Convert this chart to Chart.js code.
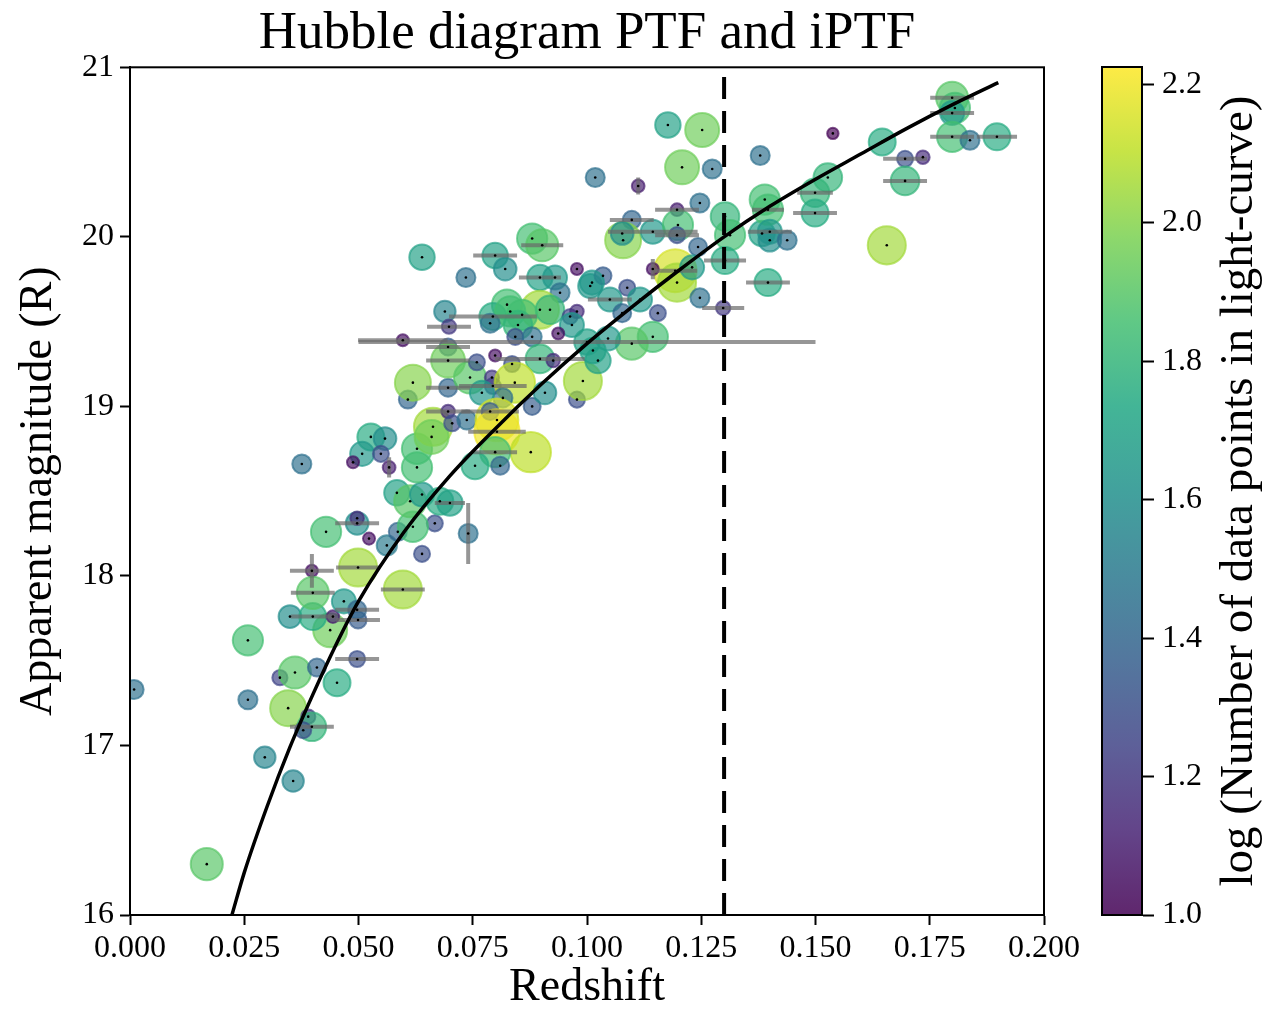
<!DOCTYPE html>
<html>
<head>
<meta charset="utf-8">
<script src="https://cdn.jsdelivr.net/npm/chart.js@4.4.1/dist/chart.umd.min.js"></script>
<style>
  body { margin: 0; background: #fff; }
  #wrap { position: relative; width: 1263px; height: 1009px; }
  #main { position: absolute; left: 0; top: 0; }
  #cbar { position: absolute; left: 1090px; top: 0; }
</style>
</head>
<body>
<div id="wrap">
  <canvas id="main" width="1090" height="1009"></canvas>
  <canvas id="cbar" width="173" height="1009"></canvas>
</div>
<script>
const FONT = "'Liberation Serif', 'Times New Roman', serif";

// supernovae: redshift, apparent magnitude (R), log10 of light-curve point count
const snZ = [
  0.0009,0.0168,0.0357,0.0295,0.0346,0.0390,0.0398,0.0379,0.0258,0.0328,
  0.0361,0.0409,0.0453,0.0497,0.0258,0.0438,0.0350,0.0400,0.0444,0.0499,
  0.0468,0.0497,0.0398,0.0400,0.0499,0.0597,0.0639,0.0562,0.0586,0.0497,
  0.0497,0.0523,0.0429,0.0667,0.0619,0.0584,0.0613,0.0639,0.0678,0.0628,
  0.0628,0.0663,0.0660,0.0527,0.0558,0.0508,0.0549,0.0567,0.0488,0.0376,
  0.0608,0.0619,0.0696,0.0696,0.0705,
  0.0639,0.0735,0.0689,0.0698,0.0597,0.0696,0.0696,0.0744,0.0880,0.0902,
  0.0799,0.0821,0.0978,0.0897,0.0930,0.0941,0.1007,0.0825,0.0897,0.0919,
  0.0794,0.0832,0.0858,0.0963,0.0978,0.0788,0.0849,0.0967,0.0937,0.0843,
  0.0880,0.1000,0.0799,0.0759,0.0836,0.0897,0.0926,0.0794,0.0792,0.0842,
  0.0816,0.0880,0.0908,0.0978,0.0770,0.0737,0.0803,0.0788,0.0803,0.0877,
  0.0799,0.0810,0.0755,0.0740,0.0700,
  0.0991,
  0.1177,0.1252,0.1208,0.1274,0.1379,0.1112,0.1018,0.1247,0.1197,0.1098,
  0.1079,0.1077,0.1144,0.1199,0.1197,0.1243,0.1302,0.1313,0.1389,0.1383,
  0.1302,0.1193,0.1197,0.1144,0.1230,0.1247,0.1298,0.1088,0.1035,0.1011,
  0.1050,0.1116,0.1155,0.1144,0.1098,0.1046,0.1013,0.1024,0.1077,0.1799,
  0.1805,0.1799,0.1799,0.1838,0.1897,0.1646,0.1696,0.1735,0.1696,0.1538,
  0.1527,0.1499,0.1499,0.1396,0.1400,0.1400,0.1438,0.1656,0.1396
];
const snMag = [
  17.33,16.30,16.79,16.93,17.22,17.17,17.11,17.09,17.27,17.40,
  17.43,17.46,17.37,17.51,17.62,17.68,17.76,17.76,17.76,17.74,
  17.85,17.80,18.03,17.90,18.05,17.92,18.13,18.18,18.26,18.31,
  18.34,18.22,18.26,18.31,18.29,18.49,18.44,18.48,18.44,18.64,
  18.75,18.88,18.82,18.82,18.81,18.72,18.72,18.64,18.67,18.66,
  19.04,19.14,19.11,18.97,18.90,
  19.88,19.76,19.56,19.47,19.39,19.35,19.27,19.17,19.99,19.95,
  19.89,19.81,19.81,19.76,19.76,19.67,19.71,19.60,19.57,19.57,
  19.53,19.56,19.54,19.53,19.56,19.49,19.48,19.48,19.43,19.41,
  19.41,19.38,19.30,19.26,19.25,19.28,19.27,19.12,19.17,19.14,
  19.05,19.00,19.08,19.04,19.08,18.92,18.92,18.97,18.85,18.73,
  18.73,18.65,18.65,18.25,18.43,
  19.15,
  20.66,20.63,20.41,20.40,20.48,20.30,20.35,20.20,20.16,20.10,
  19.98,20.02,20.03,20.07,20.01,19.94,20.12,20.01,20.22,20.02,
  19.86,19.80,19.73,19.81,19.82,19.64,19.58,19.70,19.77,19.73,
  19.63,19.63,19.55,19.41,19.37,19.40,19.33,19.27,19.55,20.82,
  20.76,20.73,20.59,20.57,20.59,20.56,20.46,20.47,20.33,20.61,
  20.35,20.26,20.14,20.16,20.03,19.98,19.98,19.95,19.73
];
const snLogN = [
  1.45,1.90,1.55,1.55,2.00,1.20,1.80,1.30,1.45,1.25,
  1.90,1.40,1.75,1.30,1.85,1.95,1.60,1.75,1.10,1.35,
  1.65,1.40,1.05,1.90,2.05,2.05,1.30,1.50,1.40,1.60,
  1.15,1.05,1.85,1.30,1.85,1.70,1.90,1.65,1.75,1.85,
  1.85,2.05,1.95,1.75,1.60,1.65,1.30,1.10,1.05,1.45,
  1.40,2.00,1.40,1.15,1.30,
  1.70,1.45,1.55,1.20,1.05,1.35,1.95,1.90,1.85,1.90,
  1.70,1.60,1.05,1.70,1.65,1.45,1.65,1.85,2.05,1.80,
  1.75,1.85,1.85,1.25,1.15,1.45,1.80,1.65,1.05,1.30,
  1.45,1.70,1.05,1.30,1.30,1.80,1.15,1.30,1.20,2.10,
  1.45,1.35,1.60,1.30,1.65,1.45,2.15,1.35,2.20,2.10,
  1.85,1.40,1.75,1.45,1.70,
  2.05,
  1.70,1.95,1.95,1.45,1.45,1.10,1.45,1.45,1.10,1.40,
  2.00,1.60,1.65,1.85,1.30,1.40,1.80,1.85,1.85,1.70,
  1.75,2.15,2.05,1.05,1.65,1.45,1.20,1.30,1.35,1.65,
  1.65,1.65,1.30,1.85,1.90,1.65,1.70,1.70,1.40,1.90,
  1.85,1.65,1.85,1.45,1.75,1.75,1.30,1.15,1.80,1.00,
  1.80,1.80,1.75,1.85,1.65,1.60,1.45,2.05,1.75
];
const snZErr = [
  0,0,0,0,0,0,0.0048,0,0,0,
  0,0,0,0.0048,0,0,0,0.0048,0,0.0048,
  0,0.0048,0.0048,0.0048,0.0048,0.0048,0,0,0,0.0048,
  0,0,0,0,0,0,0,0,0,0,
  0,0,0,0,0,0,0,0,0,0,
  0,0,0.0048,0.0048,0,
  0,0,0,0.0048,0.0098,0.0048,0.0048,0,0,0.0046,
  0.0048,0,0,0.0046,0,0,0,0,0,0,
  0.0096,0,0,0,0,0,0,0,0,0,
  0,0.050,0,0,0,0.0098,0,0.0074,0,0,
  0,0,0,0,0,0,0,0.0063,0.0063,0,
  0.0048,0,0,0,0.0033,
  0,
  0,0,0,0,0,0,0,0,0.0048,0.0048,
  0,0,0.0098,0,0.0048,0,0,0,0,0,
  0.0046,0.0048,0,0,0,0,0.0046,0,0,0,
  0.0048,0,0,0,0,0,0,0,0,0.0048,
  0,0.0048,0.0048,0,0.0044,0,0.0048,0,0.0048,0,
  0,0.0039,0.0048,0.0035,0.0048,0,0,0,0.0048
];
const snMagErr = [
  0,0,0,0,0,0,0,0,0,0,
  0,0,0,0,0,0,0,0,0,0,
  0,0,0.10,0,0,0,0,0,0,0,
  0,0,0,0,0,0,0,0,0,0,
  0,0,0,0,0,0,0,0.06,0,0,
  0,0,0,0,0,0,0,0,0,0,
  0,0,0,0,0,0,0,0,0,0,
  0,0,0,0,0,0,0,0,0,0,
  0,0,0,0,0,0,0,0,0,0,
  0,0,0,0,0,0,0,0,0,0,
  0,0,0,0,0,0,0,0,0.18,0,
  0,0,0,0,0,0,0.05,0,0,0,
  0,0,0,0,0,0,0,0,0,0,
  0,0,0,0,0.06,0,0,0,0,0,
  0,0,0,0,0,0,0,0,0,0,
  0,0,0,0,0,0,0,0,0,0,
  0,0,0,0,0,0,0,0,0,0
];

// fitted Hubble-law curve
const curveZ = [0.0223,0.025,0.030,0.035,0.040,0.045,0.050,0.060,0.070,0.080,0.090,
                0.100,0.110,0.120,0.130,0.140,0.150,0.160,0.170,0.180,0.190];
const curveMag = [16.00,16.25,16.64,16.99,17.30,17.59,17.85,18.26,18.59,18.87,19.13,
                  19.37,19.59,19.80,20.00,20.18,20.34,20.49,20.64,20.78,20.91];

const zCut = 0.13;
const zRange = [0, 0.2];
const magRange = [16, 21];
const cbarRange = [1.0, 2.225];
const cbarTitle = 'log (Number of data points in light-curve)';

const viridis = [[68,1,84],[72,36,117],[65,68,135],[53,95,141],[42,120,142],[33,145,140],
                 [34,168,132],[68,191,112],[122,209,81],[189,223,38],[253,231,37]];

function cmap(v, a) {
  let t = (v - cbarRange[0]) / (cbarRange[1] - cbarRange[0]);
  t = Math.min(1, Math.max(0, t)) * (viridis.length - 1);
  const i = Math.min(Math.floor(t), viridis.length - 2), f = t - i;
  const c = viridis[i].map((x, k) => Math.round(x + (viridis[i + 1][k] - x) * f));
  return `rgba(${c[0]},${c[1]},${c[2]},${a})`;
}
const sizeOf = v => 1.8 * Math.sqrt(Math.pow(10, v));

const errorBars = {
  id: 'errorBars',
  afterDatasetDraw(chart, args) {
    if (args.index !== 0) return;
    const { ctx, chartArea: a, scales: { x, y } } = chart;
    ctx.save();
    ctx.beginPath();
    ctx.rect(a.left, a.top, a.right - a.left, a.bottom - a.top);
    ctx.clip();
    ctx.strokeStyle = 'rgba(105,105,105,0.7)';
    ctx.lineWidth = 4;
    snZ.forEach((z, i) => {
      const px = x.getPixelForValue(z), py = y.getPixelForValue(snMag[i]);
      const xe = snZErr[i] || 0, ye = snMagErr[i] || 0;
      if (xe) {
        ctx.beginPath();
        ctx.moveTo(x.getPixelForValue(z - xe), py);
        ctx.lineTo(x.getPixelForValue(z + xe), py);
        ctx.stroke();
      }
      if (ye) {
        ctx.beginPath();
        ctx.moveTo(px, y.getPixelForValue(snMag[i] - ye));
        ctx.lineTo(px, y.getPixelForValue(snMag[i] + ye));
        ctx.stroke();
      }
    });
    ctx.fillStyle = '#000';
    snZ.forEach((z, i) => {
      ctx.beginPath();
      ctx.arc(x.getPixelForValue(z), y.getPixelForValue(snMag[i]), 1.3, 0, 2 * Math.PI);
      ctx.fill();
    });
    ctx.restore();
  }
};

const frame = {
  id: 'frame',
  afterDraw(chart) {
    const { ctx, chartArea: a } = chart;
    ctx.save();
    ctx.strokeStyle = '#000';
    ctx.lineWidth = 2;
    ctx.strokeRect(a.left, a.top, a.right - a.left, a.bottom - a.top);
    ctx.restore();
  }
};

const cbarLabel = {
  id: 'cbarLabel',
  afterDraw(chart) {
    const { ctx, chartArea: a } = chart;
    ctx.save();
    ctx.translate(a.right + 98, (a.top + a.bottom) / 2);
    ctx.rotate(-Math.PI / 2);
    ctx.font = `47px ${FONT}`;
    ctx.textAlign = 'center';
    ctx.textBaseline = 'middle';
    ctx.fillStyle = '#000';
    ctx.fillText(cbarTitle, 0, 0);
    ctx.restore();
  }
};

const tickFont = { family: FONT, size: 32 };
const labelFont = { family: FONT, size: 46, lineHeight: 1.0 };

new Chart(document.getElementById('main'), {
  type: 'scatter',
  data: {
    datasets: [
      {
        data: snZ.map((z, i) => ({ x: z, y: snMag[i] })),
        order: 2,
        clip: 0,
        pointRadius: c => sizeOf(snLogN[c.dataIndex]),
        pointBackgroundColor: c => cmap(snLogN[c.dataIndex], 0.68),
        pointBorderColor: c => cmap(snLogN[c.dataIndex], 0.68),
        pointBorderWidth: 2
      },
      {
        data: curveZ.map((z, i) => ({ x: z, y: curveMag[i] })),
        order: 1,
        clip: 0,
        showLine: true,
        cubicInterpolationMode: 'monotone',
        borderColor: '#000',
        borderWidth: 3.5,
        pointRadius: 0
      },
      {
        data: [{ x: zCut, y: magRange[0] }, { x: zCut, y: magRange[1] }],
        order: 0,
        showLine: true,
        borderColor: '#000',
        borderWidth: 4,
        borderDash: [22, 12],
        pointRadius: 0
      }
    ]
  },
  options: {
    responsive: false,
    animation: false,
    events: [],
    layout: { padding: { left: 0, right: 46, top: 0, bottom: 0 } },
    plugins: {
      legend: { display: false },
      tooltip: { enabled: false },
      title: {
        display: true,
        text: 'Hubble diagram PTF and iPTF',
        fullSize: false,
        color: '#000',
        font: { family: FONT, size: 53, weight: 'normal', lineHeight: 1.1 },
        padding: { top: 5, bottom: 4 }
      }
    },
    scales: {
      x: {
        type: 'linear',
        min: zRange[0], max: zRange[1],
        afterFit(s) { s.height = 94; },
        ticks: { stepSize: 0.025, callback: v => v.toFixed(3), font: tickFont, color: '#000', padding: 4, maxRotation: 0 },
        grid: { drawOnChartArea: false, tickLength: 10, tickWidth: 2, tickColor: '#000' },
        border: { display: true, color: '#000', width: 2 },
        title: { display: true, text: 'Redshift', font: { family: FONT, size: 46, lineHeight: 0.9 }, color: '#000', padding: { top: 0, bottom: 0 } }
      },
      y: {
        type: 'linear',
        min: magRange[0], max: magRange[1],
        afterFit(s) { s.width = 130; },
        ticks: { stepSize: 1, font: tickFont, color: '#000', padding: 6 },
        grid: { drawOnChartArea: false, tickLength: 10, tickWidth: 2, tickColor: '#000' },
        border: { display: true, color: '#000', width: 2 },
        title: { display: true, text: 'Apparent magnitude (R)', font: labelFont, color: '#000', padding: { top: 16, bottom: 0 } }
      }
    }
  },
  plugins: [errorBars, frame]
});

new Chart(document.getElementById('cbar'), {
  type: 'bar',
  data: {
    labels: [''],
    datasets: [{
      data: [[cbarRange[0], cbarRange[1]]],
      barPercentage: 1,
      categoryPercentage: 1,
      borderWidth: 0,
      backgroundColor: c => {
        const ch = c.chart;
        if (!ch.chartArea) return null;
        const y = ch.scales.y;
        const g = ch.ctx.createLinearGradient(0, y.getPixelForValue(cbarRange[0]), 0, y.getPixelForValue(cbarRange[1]));
        viridis.forEach((col, i) => {
          g.addColorStop(i / (viridis.length - 1), `rgba(${col[0]},${col[1]},${col[2]},0.85)`);
        });
        return g;
      }
    }]
  },
  options: {
    responsive: false,
    animation: false,
    events: [],
    layout: { padding: { left: 12, right: 0, top: 67, bottom: 94 } },
    plugins: { legend: { display: false }, tooltip: { enabled: false } },
    scales: {
      x: { display: false },
      y: {
        position: 'right',
        min: cbarRange[0], max: cbarRange[1],
        afterFit(s) { s.width = 121; },
        ticks: { stepSize: 0.2, includeBounds: false, callback: v => v.toFixed(1), font: tickFont, color: '#000', padding: 8 },
        grid: { drawOnChartArea: false, tickLength: 12, tickWidth: 2, tickColor: '#000' },
        border: { display: true, color: '#000', width: 2 }
      }
    }
  },
  plugins: [frame, cbarLabel]
});
</script>
</body>
</html>
